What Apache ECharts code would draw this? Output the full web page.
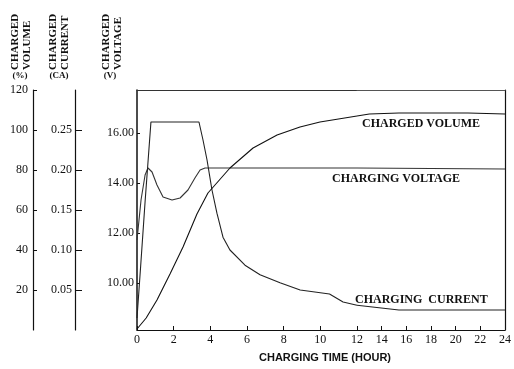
<!DOCTYPE html>
<html><head><meta charset="utf-8">
<script src="https://cdn.jsdelivr.net/npm/echarts@6/dist/echarts.min.js"></script>
<style>html,body{margin:0;padding:0;background:#fff}#c{width:514px;height:369px}</style>
</head><body><div id="c"></div>
<script>
// ---- data (hours on x) ----
const volumeT   = [0, 0.5, 1.09, 1.8, 2.51, 3.27, 3.87, 5.07, 6.33, 7.64, 8.89, 9.98, 12, 13, 15.4, 18, 21, 24];
const volumeVal = [0.5, 6, 15, 28, 41.5, 58, 68.5, 81, 91, 97.5, 101.5, 104, 107, 108, 108.5, 108.5, 108.5, 108];

const currentT   = [0, 0.2, 0.44, 0.76, 3.38, 3.6, 3.82, 4.09, 4.36, 4.69, 5.07, 5.89, 6.71, 7.8, 8.9, 10.5, 11.24, 12, 15.4, 24];
const currentVal = [0.015, 0.08, 0.16, 0.26, 0.26, 0.2375, 0.2125, 0.175, 0.146, 0.116, 0.10, 0.081, 0.069, 0.059, 0.05, 0.045, 0.035, 0.031, 0.025, 0.025];

const voltageT   = [0, 0.22, 0.44, 0.6, 0.82, 1.09, 1.42, 1.91, 2.35, 2.78, 3.16, 3.44, 3.71, 12, 24];
const voltageVal = [11.72, 13.32, 14.32, 14.6, 14.44, 13.92, 13.44, 13.32, 13.4, 13.72, 14.2, 14.52, 14.6, 14.6, 14.56];

const voltageTicks = [10, 12, 14, 16];

// ---- helpers ----
function part(ts, vs, lo, hi) {
  const out = [];
  ts.forEach((t, i) => { if (t >= lo && t <= hi) out.push([t, vs[i]]); });
  return out;
}
const SERIF = '"Liberation Serif", "DejaVu Serif", serif';
const INK = '#111';

function lineSeries(name, xi, yi, data, color) {
  return { name, type: 'line', xAxisIndex: xi, yAxisIndex: yi, data, symbol: 'none',
    smooth: false, lineStyle: { width: 1.1, color }, silent: true };
}

const yBase = (gridIndex) => ({ gridIndex, type: 'value', splitLine: { show: false } });

const chart = echarts.init(document.getElementById('c'));
chart.setOption({
  animation: false,
  backgroundColor: '#fff',
  grid: [
    { left: 137, top: 90, width: 220, bottom: 39 },
    { left: 357, top: 90, right: 4, bottom: 39 }
  ],
  xAxis: [
    { gridIndex: 0, type: 'value', min: 0, max: 12, interval: 2, position: 'bottom',
      axisLine: { onZero: false, lineStyle: { color: INK, width: 1 } },
      axisTick: { inside: true, length: 4, lineStyle: { color: INK } },
      axisLabel: { margin: 4, color: INK, fontFamily: SERIF, fontSize: 12 },
      splitLine: { show: false } },
    { gridIndex: 1, type: 'value', min: 12, max: 24, interval: 2, position: 'bottom',
      axisLine: { onZero: false, lineStyle: { color: INK, width: 1 } },
      axisTick: { inside: true, length: 4, lineStyle: { color: INK } },
      axisLabel: { showMinLabel: false, margin: 4, color: INK, fontFamily: SERIF, fontSize: 12 },
      splitLine: { show: false } },
    { gridIndex: 0, type: 'value', min: 0, max: 12, position: 'top',
      axisLine: { show: true, onZero: false, lineStyle: { color: '#333', width: 1 } },
      axisTick: { show: false }, axisLabel: { show: false }, splitLine: { show: false } },
    { gridIndex: 1, type: 'value', min: 12, max: 24, position: 'top',
      axisLine: { show: true, onZero: false, lineStyle: { color: '#555', width: 1 } },
      axisTick: { show: false }, axisLabel: { show: false }, splitLine: { show: false } }
  ],
  yAxis: [
    // grid 0: voltage (plot left edge)
    Object.assign(yBase(0), { min: 8.12, max: 17.72, position: 'left', offset: 0,
      axisLine: { show: true, onZero: false, lineStyle: { color: INK, width: 1.5 } },
      axisTick: { show: true, inside: true, length: 3, customValues: voltageTicks, lineStyle: { color: INK } },
      axisLabel: { customValues: voltageTicks, margin: 3, color: INK, fontFamily: SERIF, fontSize: 12,
        formatter: v => Number(v).toFixed(2) } }),
    // grid 0: current
    Object.assign(yBase(0), { min: 0, max: 0.3, interval: 0.05, position: 'left', offset: 62,
      axisLine: { show: true, onZero: false, lineStyle: { color: INK, width: 1.2 } },
      axisTick: { show: true, inside: true, length: 7, lineStyle: { color: INK } },
      axisLabel: { showMinLabel: false, showMaxLabel: false, margin: 3, color: INK, fontFamily: SERIF, fontSize: 12,
        formatter: v => Number(v).toFixed(2) } }),
    // grid 0: charged volume
    Object.assign(yBase(0), { min: 0, max: 120, interval: 20, position: 'left', offset: 104,
      axisLine: { show: true, onZero: false, lineStyle: { color: INK, width: 1.2 } },
      axisTick: { show: true, inside: true, length: 4, lineStyle: { color: INK } },
      axisLabel: { showMinLabel: false, margin: 5, color: INK, fontFamily: SERIF, fontSize: 12 } }),
    // grid 1 counterparts (hidden, same scales); voltage one draws the right border
    Object.assign(yBase(1), { min: 8.12, max: 17.72, position: 'right',
      axisLine: { show: true, onZero: false, lineStyle: { color: INK, width: 1.2 } },
      axisTick: { show: false }, axisLabel: { show: false } }),
    Object.assign(yBase(1), { min: 0, max: 0.3, show: false }),
    Object.assign(yBase(1), { min: 0, max: 120, show: false })
  ],
  series: [
    lineSeries('CHARGING VOLTAGE', 0, 0, part(voltageT, voltageVal, 0, 12), '#333'),
    lineSeries('CHARGING VOLTAGE', 1, 3, part(voltageT, voltageVal, 12, 24), '#333'),
    lineSeries('CHARGING CURRENT', 0, 1, part(currentT, currentVal, 0, 12), '#222'),
    lineSeries('CHARGING CURRENT', 1, 4, part(currentT, currentVal, 12, 24), '#222'),
    lineSeries('CHARGED VOLUME', 0, 2, part(volumeT, volumeVal, 0, 12), '#111'),
    lineSeries('CHARGED VOLUME', 1, 5, part(volumeT, volumeVal, 12, 24), '#111')
  ],
  graphic: [
    // rotated axis headers
    ...[['CHARGED', 15], ['VOLUME', 27], ['CHARGED', 53], ['CURRENT', 65], ['CHARGED', 106], ['VOLTAGE', 118]].map(([t, x]) => ({
      type: 'text', x, y: 70, rotation: Math.PI / 2,
      style: { text: t, font: 'bold 11px ' + SERIF, fill: INK, textAlign: 'left', textVerticalAlign: 'middle', align: 'left', verticalAlign: 'middle' }
    })),
    ...[['(%)', 20], ['(CA)', 59], ['(V)', 110]].map(([t, x]) => ({
      type: 'text', x, y: 76,
      style: { text: t, font: 'bold 9px ' + SERIF, fill: INK, textAlign: 'center', textVerticalAlign: 'middle', align: 'center', verticalAlign: 'middle' }
    })),
    // in-plot labels
    { type: 'text', x: 362, y: 124, style: { text: 'CHARGED VOLUME', font: 'bold 12px ' + SERIF, fill: INK, textVerticalAlign: 'middle', verticalAlign: 'middle' } },
    { type: 'text', x: 332, y: 179, style: { text: 'CHARGING VOLTAGE', font: 'bold 12px ' + SERIF, fill: INK, textVerticalAlign: 'middle', verticalAlign: 'middle' } },
    { type: 'text', x: 355, y: 300, style: { text: 'CHARGING  CURRENT', font: 'bold 12px ' + SERIF, fill: INK, textVerticalAlign: 'middle', verticalAlign: 'middle' } },
    // x axis title
    { type: 'text', x: 325, y: 358, style: { text: 'CHARGING TIME (HOUR)', font: 'bold 11px "Liberation Sans", Arial, sans-serif', fill: INK, textAlign: 'center', textVerticalAlign: 'middle', align: 'center', verticalAlign: 'middle' } }
  ]
});
</script>
</body></html>
